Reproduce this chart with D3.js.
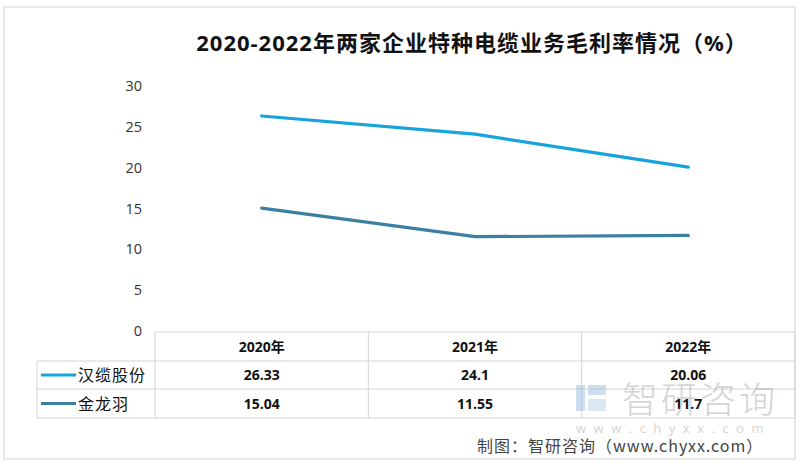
<!DOCTYPE html>
<html>
<head>
<meta charset="utf-8">
<script src="https://cdn.jsdelivr.net/npm/d3@7"></script>
<style>
body{margin:0;background:#fff;}
text{font-family:"Open Sans","Noto Sans CJK SC",sans-serif;}
</style>
</head>
<body>
<div id="chart"></div>
<script>
var years = ["2020年", "2021年", "2022年"];
var seriesNames = ["汉缆股份", "金龙羽"];
var hanlan = [26.33, 24.1, 20.06];
var jinlongyu = [15.04, 11.55, 11.7];
var hanlanLabels = ["26.33", "24.1", "20.06"];
var jinlongyuLabels = ["15.04", "11.55", "11.7"];
var yTicks = [0, 5, 10, 15, 20, 25, 30];
var couleurs = ["#17a3dc", "#3b7fa3"];

var width = 800, height = 464;
var svg = d3.select("#chart").append("svg").attr("width", width).attr("height", height);

// cadre
svg.append("rect").attr("x", 4).attr("y", 7).attr("width", 791).attr("height", 452)
    .style("fill", "none").style("stroke", "#e2e2e2").style("stroke-width", 1.5);

svg.append("text").attr("x", 472).attr("y", 51).attr("text-anchor", "middle")
    .style("font-size", "22px").style("font-weight", "bold").style("fill", "#111")
    .style("letter-spacing", "1px")
    .text("2020-2022年两家企业特种电缆业务毛利率情况（%）");

var x = d3.scaleBand().domain(years).range([155, 795]);
var y = d3.scaleLinear().domain([0, 30]).range([331, 86]);

var axeY = d3.axisLeft(y).tickValues(yTicks).tickSize(0).tickPadding(0);
var gy = svg.append("g").attr("transform", "translate(142,0)").call(axeY);
gy.select(".domain").remove();
gy.selectAll("text").style("font-size", "14.5px").style("fill", "#333")
    .style("font-family", "'Open Sans',sans-serif");

var ligne = d3.line().x(function(d, i){ return x(years[i]) + x.bandwidth()/2; })
    .y(function(d){ return y(d); });
var series = [hanlan, jinlongyu];
for(var s=0; s<series.length; s++){
    svg.append("path").datum(series[s]).attr("d", ligne)
        .style("fill", "none").style("stroke", couleurs[s]).style("stroke-width", 3.2)
        .style("stroke-linecap", "round");
}

// tableau
var rowTop = [332, 361, 389, 418];
var bord = "#d4d4d4";
svg.append("line").attr("x1", 155).attr("x2", 795).attr("y1", rowTop[0]).attr("y2", rowTop[0])
    .style("stroke", bord);
for(var r=1; r<rowTop.length; r++){
    svg.append("line").attr("x1", 37).attr("x2", 795).attr("y1", rowTop[r]).attr("y2", rowTop[r])
        .style("stroke", bord);
}
svg.append("line").attr("x1", 37).attr("x2", 37).attr("y1", rowTop[1]).attr("y2", rowTop[3]).style("stroke", bord);
for(var c=0; c<years.length; c++){
    svg.append("line").attr("x1", x(years[c])).attr("x2", x(years[c]))
        .attr("y1", rowTop[0]).attr("y2", rowTop[3]).style("stroke", bord);
}
svg.append("line").attr("x1", 795).attr("x2", 795).attr("y1", rowTop[0]).attr("y2", rowTop[3]).style("stroke", bord);

var lignesTab = [years, hanlanLabels, jinlongyuLabels];
for(var r=0; r<lignesTab.length; r++){
    for(var c=0; c<years.length; c++){
        svg.append("text").attr("x", x(years[c]) + x.bandwidth()/2)
            .attr("y", (rowTop[r] + rowTop[r+1])/2 + 5).attr("text-anchor", "middle")
            .style("font-size", "14px").style("font-weight", "bold").style("fill", "#111")
            .text(lignesTab[r][c]);
    }
}
for(var s=0; s<seriesNames.length; s++){
    var cy = (rowTop[s+1] + rowTop[s+2])/2;
    svg.append("line").attr("x1", 41).attr("x2", 76).attr("y1", cy).attr("y2", cy)
        .style("stroke", couleurs[s]).style("stroke-width", 3.2);
    svg.append("text").attr("x", 78).attr("y", cy + 6)
        .style("font-size", "16px").style("fill", "#111").style("letter-spacing", "1px")
        .style("font-family", "'Noto Sans CJK SC',sans-serif")
        .text(seriesNames[s]);
}

// filigrane
var wm = svg.append("g").style("opacity", 0.5);
wm.append("rect").attr("x", 576).attr("y", 385).attr("width", 9).attr("height", 26).style("fill", "#9bbfe0");
wm.append("rect").attr("x", 588).attr("y", 385).attr("width", 18).attr("height", 10).style("fill", "#9bbfe0");
wm.append("rect").attr("x", 588).attr("y", 399).attr("width", 18).attr("height", 12).style("fill", "#b9d3ea");
wm.append("text").attr("x", 622).attr("y", 413).style("font-size", "36px").style("fill", "#aaa")
    .style("font-family", "'Noto Sans CJK SC',sans-serif").style("font-weight", "300")
    .style("letter-spacing", "3px").text("智研咨询");
wm.append("text").attr("x", 576).attr("y", 433).style("font-size", "13px").style("fill", "#aaa")
    .style("letter-spacing", "7.5px").text("www.chyxx.com");

svg.append("text").attr("x", 477).attr("y", 452).style("font-size", "16px").style("fill", "#444")
    .style("font-family", "'Noto Sans CJK SC',sans-serif").style("letter-spacing", "1px")
    .text("制图：智研咨询（www.chyxx.com）");
</script>
</body>
</html>
